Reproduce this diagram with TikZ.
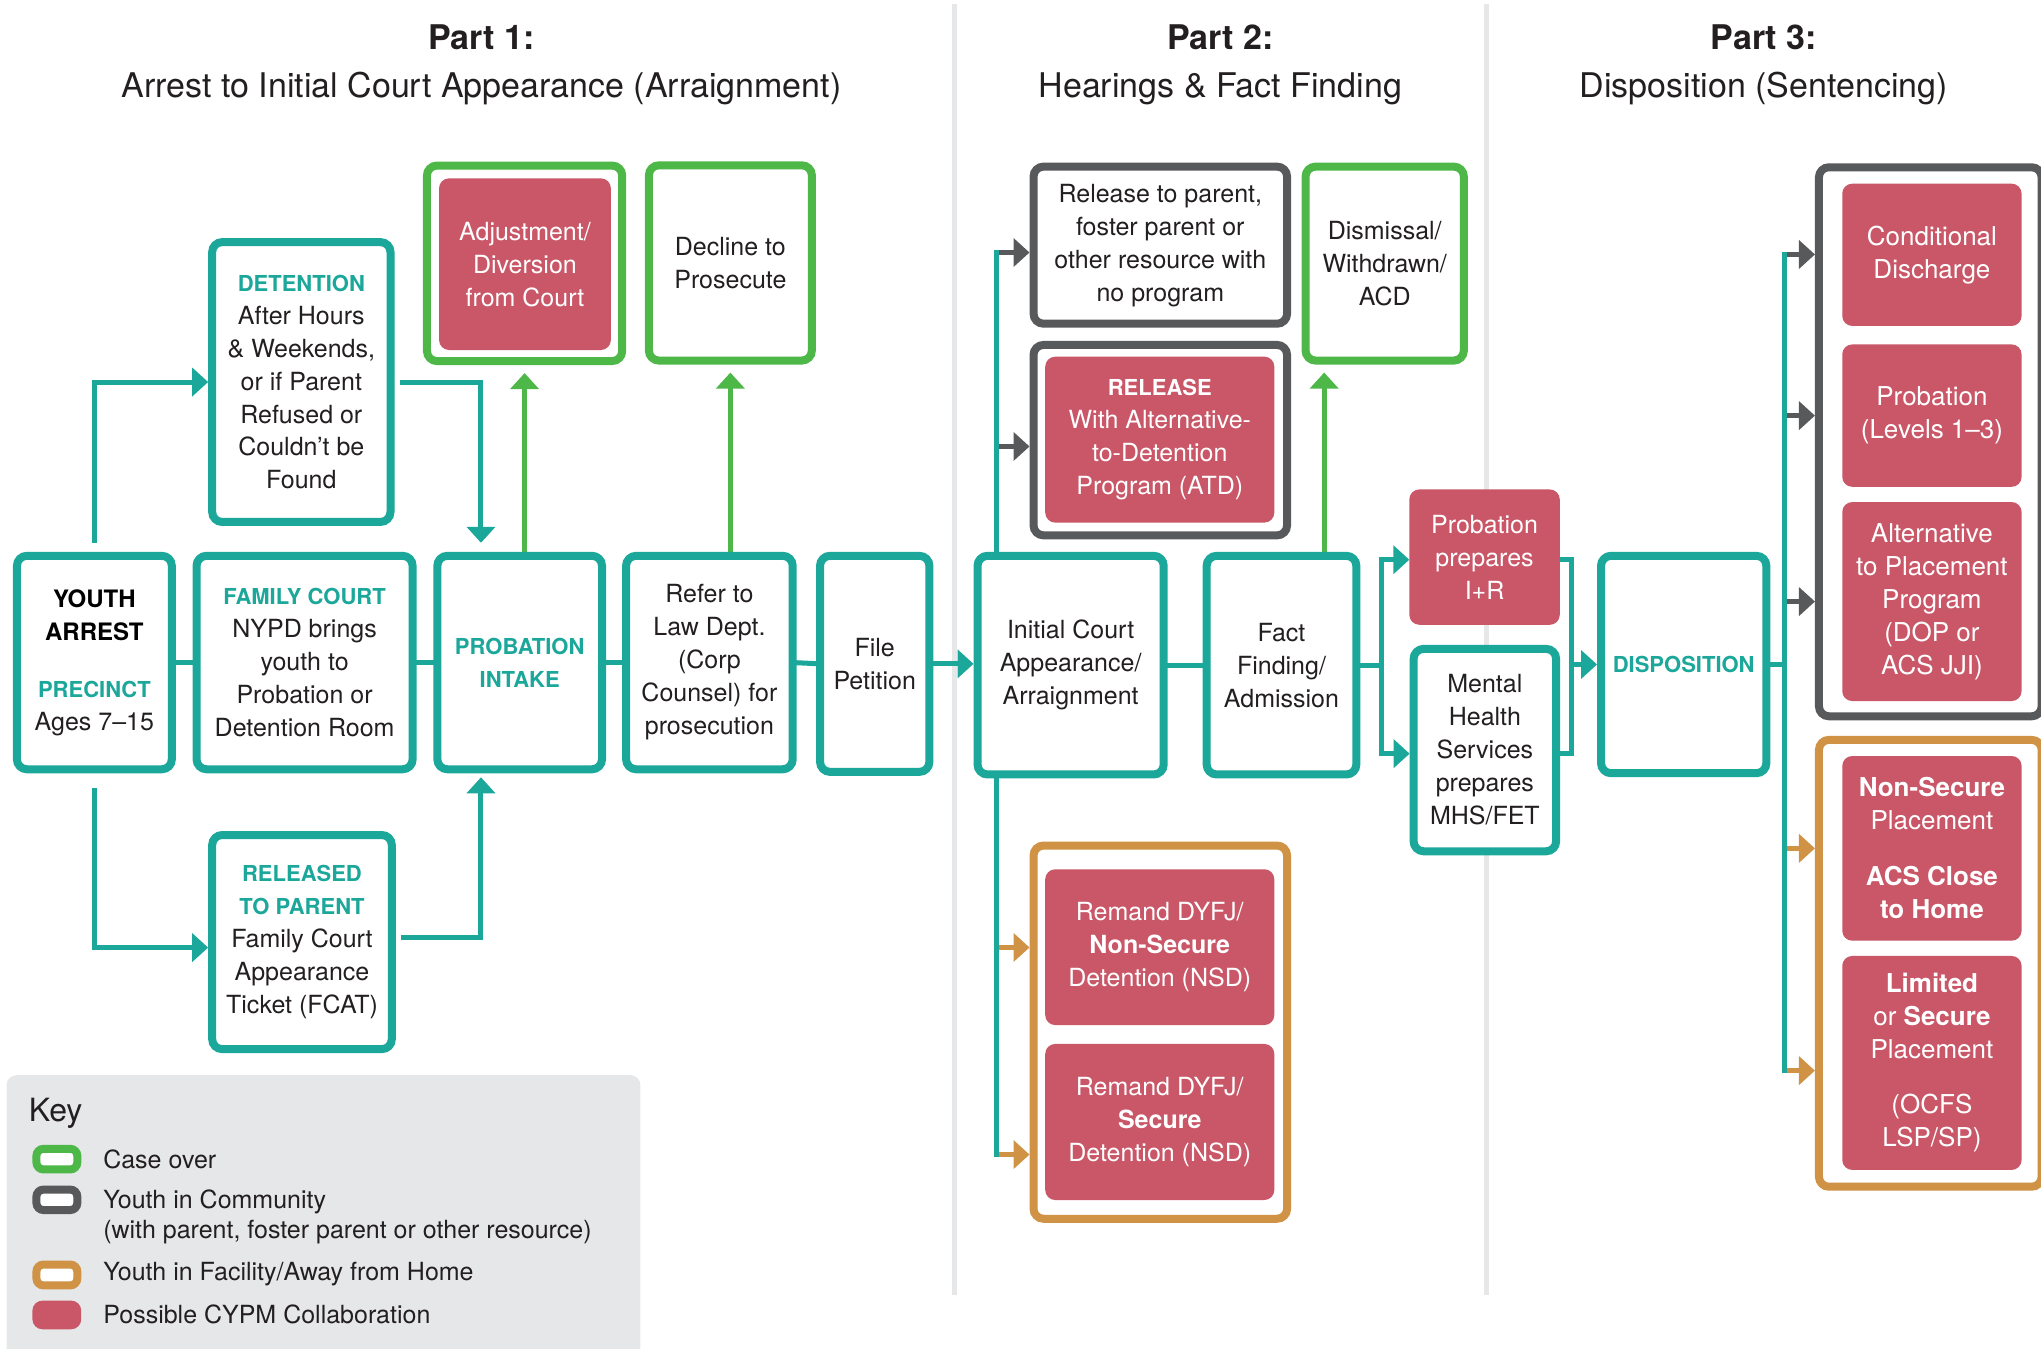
\documentclass[tikz,border=0pt]{standalone}
\usepackage{fontspec}
\setmainfont{TeX Gyre Heros}
\usetikzlibrary{arrows.meta,backgrounds}

\definecolor{cteal}{HTML}{1BA79A}
\definecolor{cgreen}{HTML}{4DB748}
\definecolor{cgray}{HTML}{58595B}
\definecolor{corange}{HTML}{D09244}
\definecolor{cred}{HTML}{C95768}
\definecolor{ckey}{HTML}{E6E7E8}
\definecolor{ctext}{HTML}{231F20}

\newcommand\txtb{\fontsize{25}{33}\selectfont}
\newcommand\txtc{\fontsize{26}{33}\selectfont}
\newcommand\hdt[1]{{\fontsize{22}{33}\selectfont\bfseries\color{cteal}#1}}
\newcommand\hdk[1]{{\fontsize{24}{33}\selectfont\bfseries\color{black}#1}}
\newcommand\hdw[1]{{\fontsize{22}{33}\selectfont\bfseries #1}}

\begin{document}
\begin{tikzpicture}[x=1.3017pt, y=-1.3017pt,
  % a box spanning the corners (#1,#2) and (#3,#4)
  area/.style n args={4}{at={({(#1+#3)/2},{(#2+#4)/2})},
    minimum width={(#3-#1)*1.3017pt}, minimum height={(#4-#2)*1.3017pt}},
  boxbase/.style={inner sep=0pt, outer sep=0pt, rounded corners=10pt, align=center, font=\txtb, text=ctext},
  tbox/.style={boxbase, draw=cteal, line width=8pt, fill=white},
  gbox/.style={tbox, draw=cgreen},
  kbox/.style={tbox, draw=cgray},
  obox/.style={tbox, draw=corange},
  rbox/.style={boxbase, fill=cred, text=white},
  rboxc/.style={rbox, font=\txtc},
  ptitle/.style={align=center, font={\fontsize{34}{48}\selectfont}, text=ctext},
  conn/.style={line width=5pt},
  arrowtip/.style={-{Triangle[length=16pt,width=28pt]}},
  tealln/.style={conn, draw=cteal},
  trunk/.style={conn, draw=cteal, line cap=rect},
  tealar/.style={conn, draw=cteal, arrowtip, shorten >=4pt},
  greenar/.style={conn, draw=cgreen, arrowtip, shorten >=12pt},
  grayar/.style={conn, draw=cgray, arrowtip, shorten >=4pt},
  orgar/.style={conn, draw=corange, arrowtip, shorten >=4pt},
  swatch/.style={inner sep=0pt, outer sep=0pt, rounded corners=7pt, line width=8pt, fill=white},
  keytext/.style={anchor=west, inner sep=0pt, align=left, font={\fontsize{25}{30}\selectfont}, text=ctext},
  sepline/.style={draw=ckey, line width=5pt}
]
\useasboundingbox (0,0) rectangle (1568,1036.35);

% ---------- section titles ----------
\node[ptitle] (title1) at (370,49.5) {{\bfseries Part 1:}\\Arrest to Initial Court Appearance (Arraignment)};
\node[ptitle] (title2) at (937.5,49.5) {{\bfseries Part 2:}\\Hearings \& Fact Finding};
\node[ptitle] (title3) at (1355,49.5) {{\bfseries Part 3:}\\Disposition (Sentencing)};

% ---------- Part 1 ----------
\node[tbox, area={13}{427}{132}{591}] (arrest)
  {\hdk{YOUTH}\\\hdk{ARREST}\\[24pt]\hdt{PRECINCT}\\Ages 7–15};
\node[tbox, area={151}{427}{317}{591}] (family)
  {\hdt{FAMILY COURT}\\NYPD brings\\youth to\\Probation or\\Detention Room};
\node[tbox, area={336}{427}{462.5}{591}] (intake)
  {\hdt{PROBATION}\\\hdt{INTAKE}};
\node[tbox, area={481}{427}{609}{591}] (refer)
  {Refer to\\Law Dept.\\(Corp\\Counsel) for\\prosecution};
\node[tbox, area={630}{427}{714}{593}] (petition)
  {File\\Petition};
\node[tbox, area={163}{186}{300}{401}] (detention)
  {\hdt{DETENTION}\\After Hours\\\& Weekends,\\or if Parent\\Refused or\\Couldn’t be\\Found};
\node[tbox, area={163}{641.5}{301}{806}] (released)
  {\hdt{RELEASED}\\\hdt{TO PARENT}\\Family Court\\Appearance\\Ticket (FCAT)};
\node[gbox, area={328}{127.2}{478}{277.4}] (adjustout) {};
\node[rbox, area={337.3}{137}{469.3}{268.9}] (adjust)
  {Adjustment/\\Diversion\\from Court};
\node[gbox, area={498.5}{127}{623.7}{277}] (decline)
  {Decline to\\Prosecute};

% ---------- Part 2 ----------
\node[tbox, area={751}{427}{894}{595}] (ica)
  {Initial Court\\Appearance/\\Arraignment};
\node[tbox, area={927}{427}{1042}{595}] (fact)
  {Fact\\Finding/\\Admission};
\node[kbox, area={794}{128}{988.8}{248.7}] (rparent)
  {Release to parent,\\foster parent or\\other resource with\\no program};
\node[kbox, area={794}{265}{988.8}{411.3}] (atdout) {};
\node[rbox, area={803}{274}{979}{401.5}] (atd)
  {\hdw{RELEASE}\\With Alternative-\\to-Detention\\Program (ATD)};
\node[gbox, area={1003}{128}{1124.6}{277}] (dismiss)
  {Dismissal/\\Withdrawn/\\ACD};
\node[obox, area={794}{649.6}{988.8}{936.3}] (remandout) {};
\node[rbox, area={803}{667.8}{979}{787.5}] (remand1)
  {Remand DYFJ/\\{\bfseries Non-Secure}\\Detention (NSD)};
\node[rbox, area={803}{802}{979}{921.9}] (remand2)
  {Remand DYFJ/\\{\bfseries Secure}\\Detention (NSD)};
\node[rbox, area={1082.7}{376}{1198.3}{480}] (ir)
  {Probation\\prepares\\I+R};
\node[tbox, area={1086}{498.5}{1195.5}{654}] (mhs)
  {Mental\\Health\\Services\\prepares\\MHS/FET};

% ---------- Part 3 ----------
\node[tbox, area={1230}{427}{1357}{594}] (disp) {\hdt{DISPOSITION}};
\node[kbox, area={1397.4}{128.5}{1568.5}{550.3}] (grayout) {};
\node[rboxc, area={1415.3}{141.1}{1553.1}{250.4}] (cond)
  {Conditional\\Discharge};
\node[rboxc, area={1415.3}{264.6}{1553.1}{374}] (prob)
  {Probation\\(Levels 1–3)};
\node[rboxc, area={1415.3}{385.7}{1553.1}{538.6}] (alt)
  {Alternative\\to Placement\\Program\\(DOP or\\ACS JJI)};
\node[obox, area={1397.4}{568.4}{1568.5}{911.7}] (placeout) {};
\node[rboxc, area={1415.3}{580.8}{1553.1}{722.7}] (nonsec)
  {{\bfseries Non-Secure}\\Placement\\[23pt]{\bfseries ACS Close}\\{\bfseries to Home}};
\node[rboxc, area={1415.3}{734.4}{1553.1}{898.8}] (limited)
  {{\bfseries Limited}\\or {\bfseries Secure}\\Placement\\[22pt](OCFS\\LSP/SP)};

% ---------- key ----------
\node[font={\fontsize{32}{36}\selectfont}, text=ctext, anchor=west, inner sep=0pt] (keyhead) at (22,855) {Key};
\node[swatch, draw=cgreen, area={28}{882.6}{59.4}{898.4}] (sw1) {};
\node[swatch, draw=cgray, area={28}{913.9}{59.4}{929.6}] (sw2) {};
\node[swatch, draw=corange, area={28}{971.5}{59.4}{987.5}] (sw3) {};
\node[swatch, fill=cred, rounded corners=10pt, area={24.9}{999.2}{62.4}{1021.2}] (sw4) {};
\node[keytext] (k1) at (79.2,891) {Case over};
\node[keytext] (k2) at (79.2,935) {Youth in Community\\(with parent, foster parent or other resource)};
\node[keytext] (k3) at (79.2,978.5) {Youth in Facility/Away from Home};
\node[keytext] (k4) at (79.2,1010) {Possible CYPM Collaboration};

% ---------- branch points ----------
\coordinate (ta) at (765.5,194);
\coordinate (tb) at (765.5,343);
\coordinate (tc) at (765.5,727.9);
\coordinate (td) at (765.5,887);
\coordinate (gx) at (1017.3,0);
\coordinate (sa) at (1061.5,430);
\coordinate (sb) at (1061.5,579);
\coordinate (ma) at (1207.4,430);
\coordinate (mb) at (1207.4,579);
\coordinate (da) at (1371.3,195.5);
\coordinate (de) at (1371.3,822.5);

\begin{pgfonlayer}{background}
  \clip (0,0) rectangle (1568,1036.35);
  % key panel and column rules
  \fill[ckey, rounded corners=10pt] (5,826) rectangle (492,1060);
  \draw[sepline] (733,3) -- (733,995);
  \draw[sepline] (1142,3) -- (1142,995);

  % Part 1 flow
  \draw[tealar, shorten <=13pt] (arrest.north) |- (detention.west);
  \draw[tealar, shorten <=18.7pt] (arrest.south) |- ([yshift=-5.5pt]released.west);
  \draw[tealar, shorten <=9pt, shorten >=13pt] (detention.east) -| ([xshift=-38.7pt]intake.north);
  \draw[tealar, shorten <=9pt, shorten >=8pt] ([yshift=5pt]released.east) -| ([xshift=-38.7pt]intake.south);
  \draw[tealln] (arrest.east) -- (family.west);
  \draw[tealln] (family.east) -- (intake.west);
  \draw[tealln] (intake.east) -- (refer.west);
  \draw[tealln] (refer.east) -- (petition.west);
  \draw[greenar] (intake.north -| adjustout.south) -- (adjustout.south);
  \draw[greenar] (refer.north -| decline.south) -- (decline.south);

  % Part 2 flow
  \draw[tealar] (petition.east) -- (petition.east -| ica.west);
  \draw[tealln] (ica.east) -- (fact.west);
  \draw[grayar] (ta) -- (ta -| rparent.west);
  \draw[grayar] (tb) -- (tb -| atdout.west);
  \draw[orgar] (tc) -- (tc -| remandout.west);
  \draw[orgar] (td) -- (td -| remandout.west);
  \draw[trunk] (ta) -- (td);
  \draw[greenar] (fact.north -| gx) -- (gx |- dismiss.south);
  \draw[tealar, shorten >=0pt] (fact.east) -| (sa) -- (sa -| ir.west);
  \draw[tealar] (fact.east) -| (sb) -- (sb -| mhs.west);
  \draw[tealln] (ma -| ir.east) -- (ma) -- (mb) -- (mb -| mhs.east);
  \draw[tealar] (ma |- disp.west) -- (disp.west);

  % Part 3 flow
  \draw[tealln] (disp.east) -- (disp.east -| da);
  \draw[grayar] (da) -- (da -| grayout.west);
  \draw[grayar] (da |- prob.west) -- (grayout.west |- prob.west);
  \draw[grayar] (da |- alt.west) -- (grayout.west |- alt.west);
  \draw[orgar] (da |- nonsec.west) -- (placeout.west |- nonsec.west);
  \draw[orgar] (de) -- (de -| placeout.west);
  \draw[trunk] (da) -- (de);
\end{pgfonlayer}
\end{tikzpicture}
\end{document}
